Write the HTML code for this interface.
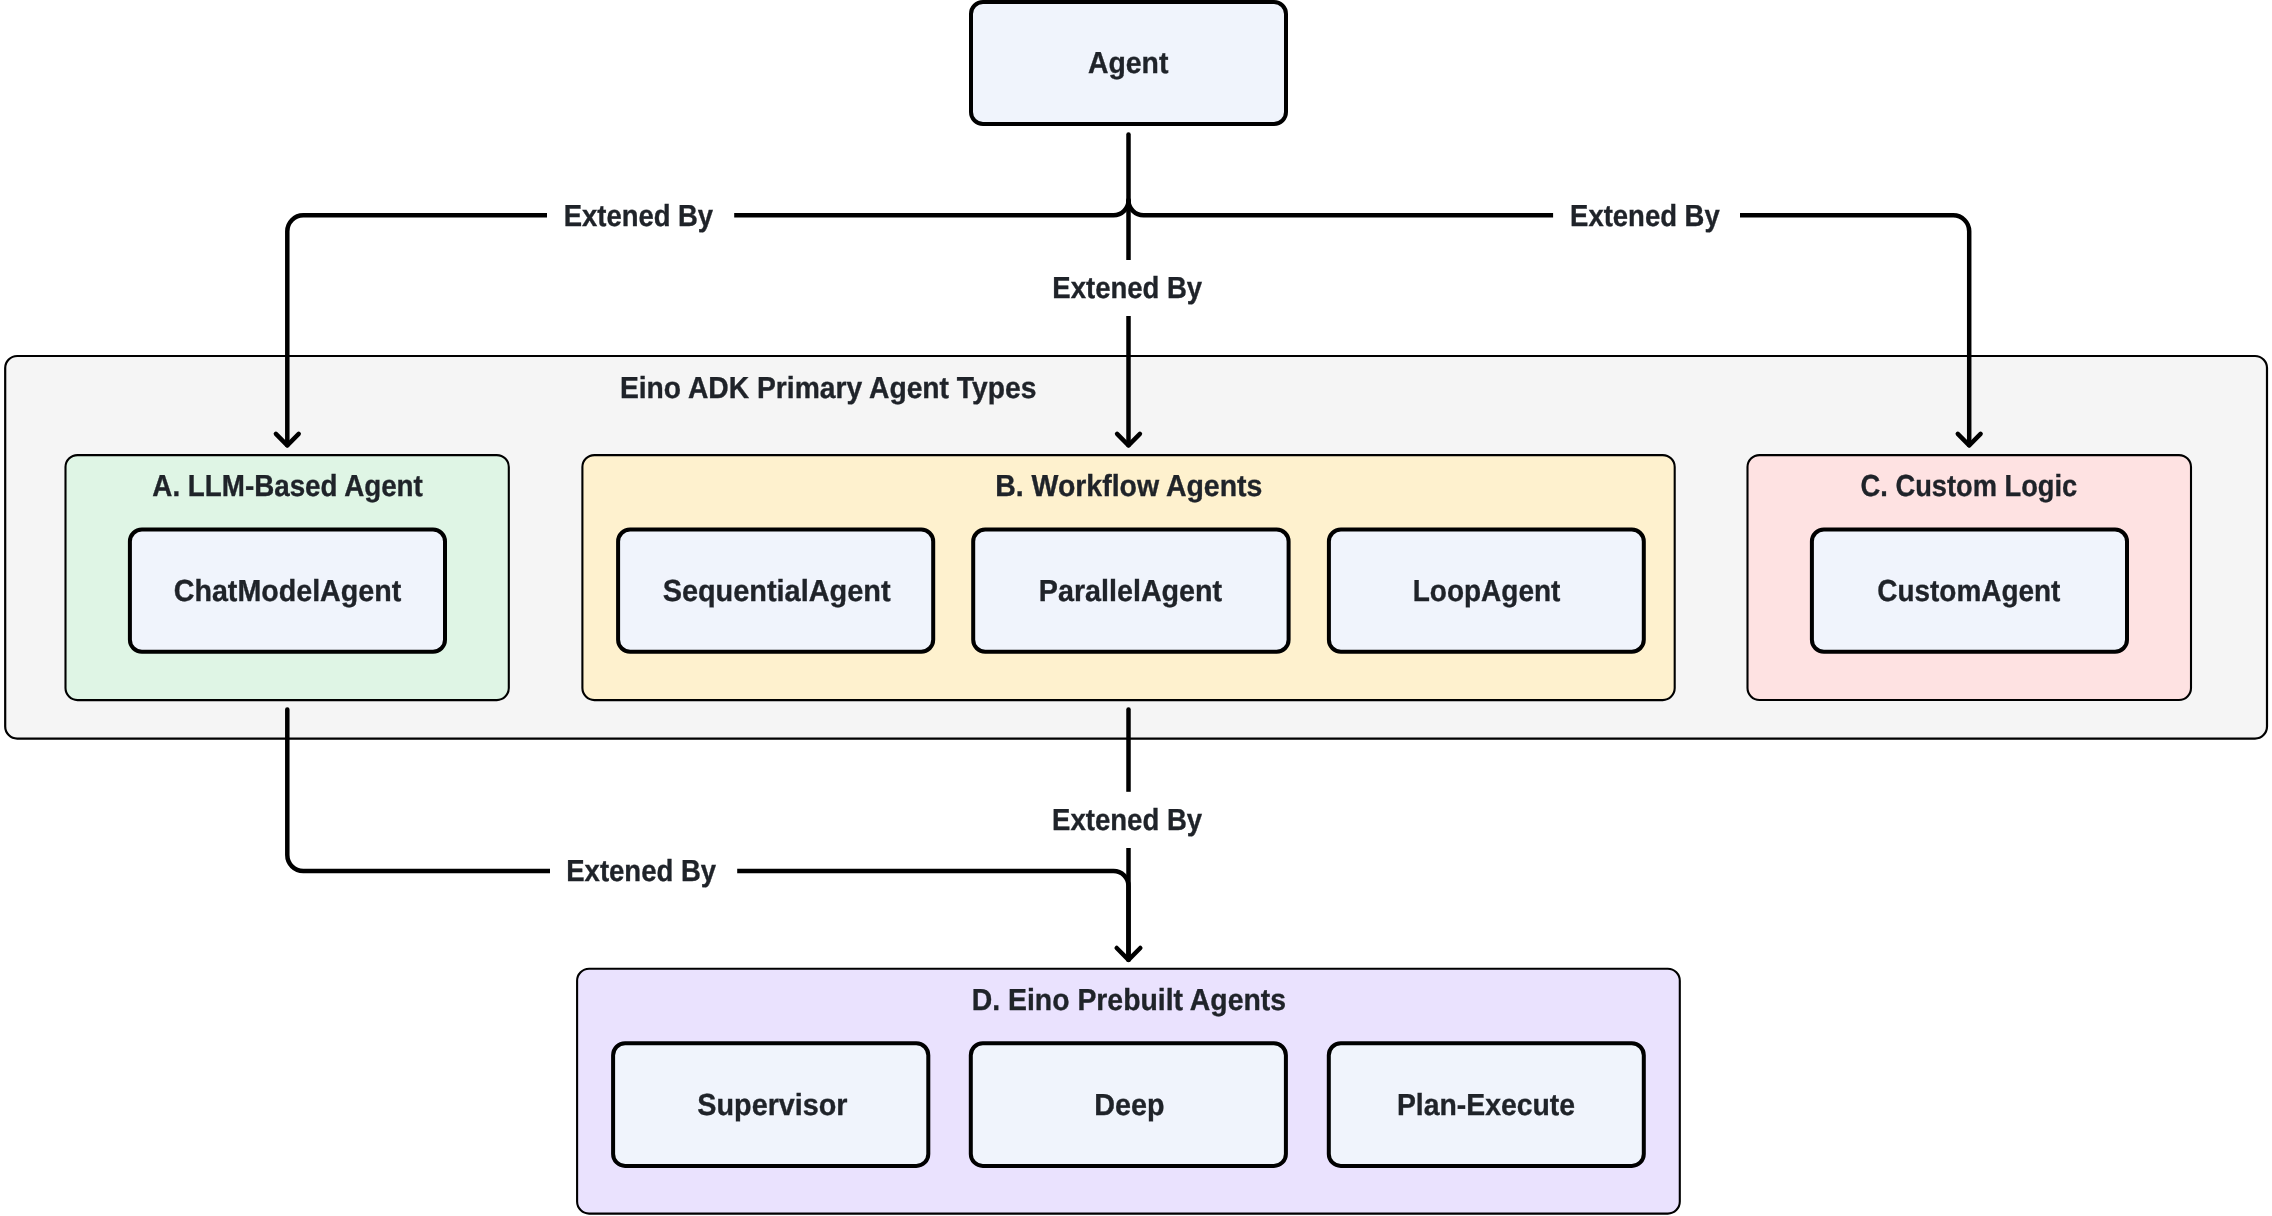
<!DOCTYPE html>
<html><head><meta charset="utf-8"><title>Eino ADK Agent Types</title>
<style>
html,body{margin:0;padding:0;background:#ffffff;width:2272px;height:1216px;overflow:hidden}
svg{display:block;will-change:transform}
text{font-family:"Liberation Sans",sans-serif;font-weight:bold;font-size:30.4px;fill:#1f2329;stroke:#1f2329;stroke-width:0.35px;text-rendering:geometricPrecision}
</style></head>
<body>
<svg width="2272" height="1216" viewBox="0 0 2272 1216">
<rect x="0" y="0" width="2272" height="1216" fill="#ffffff"/>
<rect x="5.2" y="356" width="2261.80" height="382.60" rx="12" ry="12" fill="#f5f5f5" stroke="#000" stroke-width="2.2"/>
<rect x="65.5" y="455.1" width="443.30" height="245.00" rx="12" ry="12" fill="#dff5e5" stroke="#000" stroke-width="2.1"/>
<rect x="582.4" y="455.1" width="1092.30" height="245.00" rx="12" ry="12" fill="#fef1ce" stroke="#000" stroke-width="2.1"/>
<rect x="1747.5" y="455.1" width="443.50" height="244.90" rx="12" ry="12" fill="#fee2e2" stroke="#000" stroke-width="2.1"/>
<rect x="577.1" y="968.8" width="1102.70" height="244.80" rx="12" ry="12" fill="#eae2fe" stroke="#000" stroke-width="2.1"/>
<rect x="129.9" y="529.5" width="315.10" height="122.30" rx="12" ry="12" fill="#f0f4fc" stroke="#000" stroke-width="4"/>
<rect x="618.1" y="529.5" width="315.10" height="122.30" rx="12" ry="12" fill="#f0f4fc" stroke="#000" stroke-width="4"/>
<rect x="973.2" y="529.5" width="315.40" height="122.30" rx="12" ry="12" fill="#f0f4fc" stroke="#000" stroke-width="4"/>
<rect x="1328.9" y="529.5" width="314.90" height="122.30" rx="12" ry="12" fill="#f0f4fc" stroke="#000" stroke-width="4"/>
<rect x="1811.9" y="529.5" width="315.10" height="122.30" rx="12" ry="12" fill="#f0f4fc" stroke="#000" stroke-width="4"/>
<rect x="613.1" y="1043.2" width="315.20" height="122.70" rx="12" ry="12" fill="#f0f4fc" stroke="#000" stroke-width="4"/>
<rect x="970.8" y="1043.2" width="315.10" height="122.70" rx="12" ry="12" fill="#f0f4fc" stroke="#000" stroke-width="4"/>
<rect x="1328.8" y="1043.2" width="315.00" height="122.70" rx="12" ry="12" fill="#f0f4fc" stroke="#000" stroke-width="4"/>
<rect x="971" y="2" width="315.00" height="122.00" rx="12" ry="12" fill="#f0f4fc" stroke="#000" stroke-width="4"/>
<path d="M 1128.5 134.6 L 1128.5 445.3" fill="none" stroke="#000" stroke-width="4.5" stroke-linecap="round" stroke-linejoin="round"/>
<path d="M 1117.10 433.90 L 1128.50 445.30 L 1139.90 433.90" fill="none" stroke="#000" stroke-width="4.5" stroke-linecap="round" stroke-linejoin="round"/>
<path d="M 1128.5 200.3 A 15 15 0 0 1 1113.5 215.3 L 303.3 215.3 A 16 16 0 0 0 287.3 231.3 L 287.3 445.3" fill="none" stroke="#000" stroke-width="4.5" stroke-linecap="round" stroke-linejoin="round"/>
<path d="M 275.90 433.90 L 287.30 445.30 L 298.70 433.90" fill="none" stroke="#000" stroke-width="4.5" stroke-linecap="round" stroke-linejoin="round"/>
<path d="M 1128.5 200.3 A 15 15 0 0 0 1143.5 215.3 L 1953.2 215.3 A 16 16 0 0 1 1969.2 231.3 L 1969.2 445.3" fill="none" stroke="#000" stroke-width="4.5" stroke-linecap="round" stroke-linejoin="round"/>
<path d="M 1957.80 433.90 L 1969.20 445.30 L 1980.60 433.90" fill="none" stroke="#000" stroke-width="4.5" stroke-linecap="round" stroke-linejoin="round"/>
<path d="M 287.3 709.4 L 287.3 855.0 A 16 16 0 0 0 303.3 871.0 L 1113.5 871.0 A 15 15 0 0 1 1128.5 886.0 L 1128.5 959.8" fill="none" stroke="#000" stroke-width="4.5" stroke-linecap="round" stroke-linejoin="round"/>
<path d="M 1128.5 709.4 L 1128.5 959.8" fill="none" stroke="#000" stroke-width="4.5" stroke-linecap="round" stroke-linejoin="round"/>
<path d="M 1116.70 948.00 L 1128.50 959.80 L 1140.30 948.00" fill="none" stroke="#000" stroke-width="4.5" stroke-linecap="round" stroke-linejoin="round"/>
<rect x="547" y="187.3" width="187.20" height="56.00" fill="#ffffff"/>
<rect x="1553.1" y="187.3" width="186.90" height="56.00" fill="#ffffff"/>
<rect x="1034.7" y="260" width="187.00" height="56.00" fill="#ffffff"/>
<rect x="1034.7" y="791.8" width="187.00" height="56.20" fill="#ffffff"/>
<rect x="550" y="843" width="187.20" height="56.00" fill="#ffffff"/>
<text transform="translate(1087.95,72.80) scale(0.9338,1)">Agent</text>
<text transform="translate(563.68,225.80) scale(0.9029,1)">Extened By</text>
<text transform="translate(1570.08,225.80) scale(0.9041,1)">Extened By</text>
<text transform="translate(1052.37,297.80) scale(0.9048,1)">Extened By</text>
<text transform="translate(619.92,397.50) scale(0.9295,1)">Eino ADK Primary Agent Types</text>
<text transform="translate(152.37,496.10) scale(0.9136,1)">A. LLM-Based Agent</text>
<text transform="translate(995.21,496.10) scale(0.9362,1)">B. Workflow Agents</text>
<text transform="translate(1860.61,496.00) scale(0.8970,1)">C. Custom Logic</text>
<text transform="translate(173.75,600.70) scale(0.9422,1)">ChatModelAgent</text>
<text transform="translate(662.63,600.70) scale(0.9504,1)">SequentialAgent</text>
<text transform="translate(1038.79,600.80) scale(0.9441,1)">ParallelAgent</text>
<text transform="translate(1412.74,600.80) scale(0.9209,1)">LoopAgent</text>
<text transform="translate(1877.28,600.80) scale(0.9190,1)">CustomAgent</text>
<text transform="translate(1052.07,829.90) scale(0.9066,1)">Extened By</text>
<text transform="translate(566.27,880.80) scale(0.9048,1)">Extened By</text>
<text transform="translate(971.81,1010.10) scale(0.9334,1)">D. Eino Prebuilt Agents</text>
<text transform="translate(697.34,1114.90) scale(0.9462,1)">Supervisor</text>
<text transform="translate(1094.29,1114.80) scale(0.9445,1)">Deep</text>
<text transform="translate(1396.91,1114.90) scale(0.9331,1)">Plan-Execute</text>
</svg>
</body></html>
